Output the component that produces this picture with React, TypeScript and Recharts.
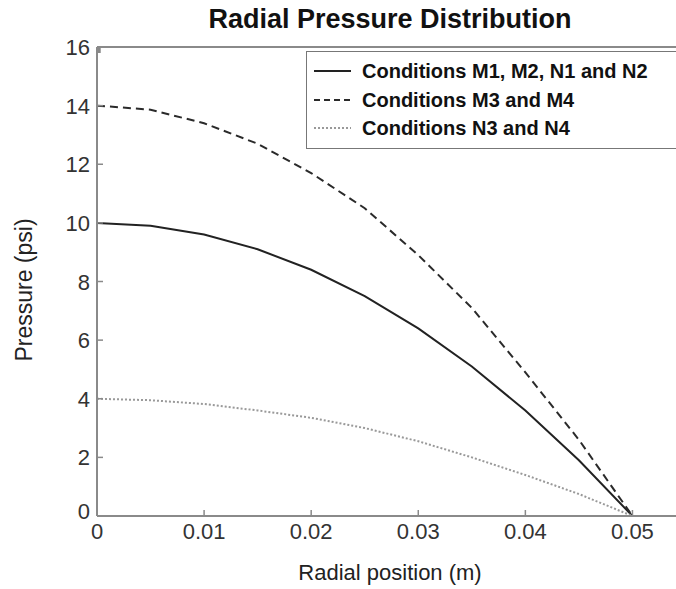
import React from 'react';
import { LineChart, Line, XAxis, YAxis } from 'recharts';

const radius = [0, 0.005, 0.01, 0.015, 0.02, 0.025, 0.03, 0.035, 0.04, 0.045, 0.05];
const pressureM1 = [10, 9.9, 9.6, 9.1, 8.4, 7.5, 6.4, 5.1, 3.6, 1.9, 0];
const pressureM3 = [14, 13.86, 13.4, 12.7, 11.7, 10.5, 8.9, 7.1, 4.9, 2.6, 0];
const pressureN3 = [4, 3.95, 3.82, 3.6, 3.35, 3.0, 2.55, 2.0, 1.4, 0.75, 0];

const xTicks = [0, 0.01, 0.02, 0.03, 0.04, 0.05];
const yTicks = [0, 2, 4, 6, 8, 10, 12, 14, 16];

const series = [
  { key: 'm1', name: 'Conditions M1, M2, N1 and N2', color: '#222', dash: undefined as string | undefined, width: 2 },
  { key: 'm3', name: 'Conditions M3 and M4', color: '#2a2a2a', dash: '8 5', width: 2 },
  { key: 'n3', name: 'Conditions N3 and N4', color: '#999', dash: '2 2', width: 2 },
];

const data = radius.map((r, i) => ({ r, m1: pressureM1[i], m3: pressureM3[i], n3: pressureN3[i] }));

const FONT = '"Liberation Sans", Arial, Helvetica, sans-serif';
const AXIS = '#8a8a8a';

const BottomTick = (props: any) => {
  const { x, y, payload } = props;
  return (
    <g>
      <line x1={x} y1={y} x2={x} y2={y - 6} stroke={AXIS} strokeWidth={1.5} />
      <text x={x} y={y + 23} textAnchor="middle" fontSize={22} fill="#333" fontFamily={FONT}>
        {String(payload.value)}
      </text>
    </g>
  );
};

const TopTick = (props: any) => {
  const { x, y } = props;
  return <line x1={x} y1={y} x2={x} y2={y + 6} stroke={AXIS} strokeWidth={1.5} />;
};

const LeftTick = (props: any) => {
  const { x, y, payload } = props;
  const lift = payload.value === 0 ? -5 : 0;
  return (
    <g>
      <line x1={x} y1={y} x2={x + 6} y2={y} stroke={AXIS} strokeWidth={1.5} />
      <text x={x - 7} y={y + 8 + lift} textAnchor="end" fontSize={22} fill="#333" fontFamily={FONT}>
        {String(payload.value)}
      </text>
    </g>
  );
};

const RightTick = (props: any) => {
  const { x, y } = props;
  return <line x1={x} y1={y} x2={x - 6} y2={y} stroke={AXIS} strokeWidth={1.5} />;
};

export default function App() {
  return (
    <div style={{ position: 'fixed', left: 0, top: 0, width: 676, height: 589, overflow: 'hidden', background: '#fff', fontFamily: FONT }}>
      <div style={{ position: 'absolute', left: 0, top: 0 }}>
        <LineChart width={692} height={589} data={data} margin={{ top: 46, right: 5, bottom: 72, left: 96 }}>
          <XAxis
            dataKey="r"
            type="number"
            domain={[0, 0.055]}
            ticks={xTicks}
            allowDataOverflow
            height={1}
            tickSize={0}
            tickMargin={0}
            tick={<BottomTick />}
            stroke={AXIS}
            strokeWidth={2}
            interval={0}
          />
          <XAxis
            xAxisId="top"
            orientation="top"
            type="number"
            domain={[0, 0.055]}
            ticks={xTicks}
            allowDataOverflow
            height={1}
            tickSize={0}
            tickMargin={0}
            tick={<TopTick />}
            stroke={AXIS}
            strokeWidth={2}
            interval={0}
          />
          <YAxis
            type="number"
            domain={[0, 16]}
            ticks={yTicks}
            allowDataOverflow
            width={1}
            tickSize={0}
            tickMargin={0}
            tick={<LeftTick />}
            stroke={AXIS}
            strokeWidth={2}
            interval={0}
          />
          <YAxis
            yAxisId="right"
            orientation="right"
            type="number"
            domain={[0, 16]}
            ticks={yTicks}
            allowDataOverflow
            width={1}
            tickSize={0}
            tickMargin={0}
            tick={<RightTick />}
            stroke={AXIS}
            strokeWidth={2}
            interval={0}
          />
          {series.map((s) => (
            <Line
              key={s.key}
              dataKey={s.key}
              name={s.name}
              type="linear"
              stroke={s.color}
              strokeWidth={s.width}
              strokeDasharray={s.dash}
              dot={false}
              activeDot={false}
              isAnimationActive={false}
            />
          ))}
        </LineChart>
      </div>

      <div style={{ position: 'absolute', left: 0, width: 780, top: 4, textAlign: 'center', fontSize: 27, fontWeight: 'bold', color: '#111', lineHeight: '30px' }}>
        Radial Pressure Distribution
      </div>

      <div style={{ position: 'absolute', left: 0, width: 780, top: 560, textAlign: 'center', fontSize: 22, color: '#222', lineHeight: '26px' }}>
        Radial position (m)
      </div>

      <div
        style={{
          position: 'absolute',
          left: 24,
          top: 290,
          transform: 'translate(-50%, -50%) rotate(-90deg)',
          fontSize: 23,
          color: '#222',
          whiteSpace: 'nowrap',
          lineHeight: '26px',
        }}
      >
        Pressure (psi)
      </div>

      <div style={{ position: 'absolute', left: 306, top: 51, width: 420, height: 96, border: '1.5px solid #777', background: '#fff' }}>
        {series.map((s, i) => (
          <div key={s.key} style={{ position: 'absolute', left: 0, top: [19, 48, 76][i] - 12, height: 24, display: 'flex', alignItems: 'center' }}>
            <svg width={52} height={24}>
              <line x1={7} y1={12} x2={44} y2={12} stroke={s.color} strokeWidth={2} strokeDasharray={s.dash === '8 5' ? '6 4' : s.dash} />
            </svg>
            <span style={{ fontSize: 20, fontWeight: 'bold', color: '#111', whiteSpace: 'nowrap', marginLeft: 3 }}>{s.name}</span>
          </div>
        ))}
      </div>
    </div>
  );
}
